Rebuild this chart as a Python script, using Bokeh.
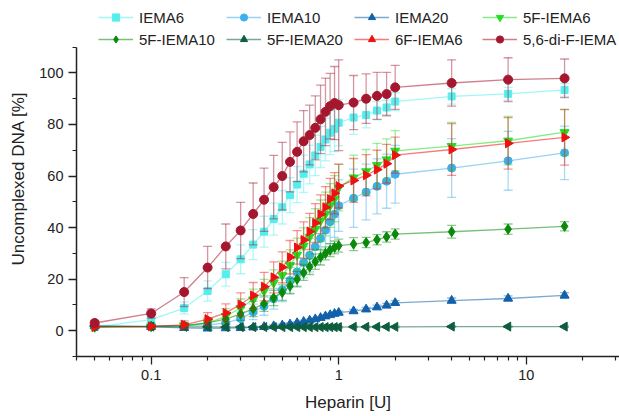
from bokeh.plotting import figure
from bokeh.models import (ColumnDataSource, FixedTicker, CustomJSTickFormatter,
                          Legend, LegendItem, Range1d)
from bokeh.embed import file_html
from bokeh.resources import INLINE

# ---------------- data ----------------
heparin = [0.05, 0.1, 0.15, 0.2, 0.25, 0.3, 0.35, 0.4, 0.45, 0.5, 0.55, 0.6, 0.65, 0.7,
           0.75, 0.8, 0.85, 0.9, 0.95, 1.0, 1.2, 1.4, 1.6, 1.8, 2, 4, 8, 16]

names = ["IEMA6", "IEMA10", "IEMA20", "5F-IEMA6",
         "5F-IEMA10", "5F-IEMA20", "6F-IEMA6", "5,6-di-F-IEMA"]

iema6 = [1.4, 4.3, 8.8, 15.4, 21.9, 27.7, 33.4, 38.4, 43.3, 47.9, 52.6, 56.7, 60.9, 64.5,
         68.0, 71.3, 74.2, 76.8, 78.3, 80.7, 82.7, 83.7, 85.4, 86.6, 88.9, 90.9, 91.9, 93.4]
iema6_err = [0.5, 1.2, 2.3, 3.9, 4.6, 5.6, 5.8, 6.0, 6.2, 6.5, 6.8, 7.0, 7.2, 7.5,
             7.8, 8.0, 8.3, 8.5, 8.8, 9.0, 6.5, 5.0, 3.6, 2.8, 3.5, 3.0, 2.5, 2.5]

iema10 = [1.8, 1.8, 2.0, 2.3, 3.0, 4.7, 7.3, 9.5, 12.4, 15.8, 19.5, 22.8, 26.5, 29.3,
          32.6, 35.8, 39.0, 42.3, 45.2, 48.5, 51.4, 53.8, 56.0, 58.0, 60.7, 63.1, 65.9, 69.0]
iema10_err = [0.5, 0.5, 0.8, 1.0, 1.5, 2.5, 3.0, 3.5, 4.0, 4.5, 5.0, 5.5, 6.0, 6.5,
              7.0, 7.5, 8.0, 8.5, 9.0, 10.0, 11.3, 10.8, 10.7, 10.5, 11.2, 11.4, 11.4, 10.4]

iema20 = [1.8, 1.5, 1.1, 0.9, 1.0, 1.1, 1.3, 1.5, 1.8, 2.1, 2.5, 3.0, 3.5, 4.0,
          4.5, 5.0, 5.6, 6.1, 6.6, 7.0, 7.6, 8.3, 9.1, 9.8, 10.8, 11.7, 12.5, 13.7]
iema20_err = [0.4, 0.4, 0.4, 0.4, 0.4, 0.4, 0.4, 0.4, 0.5, 0.5, 0.5, 0.5, 0.5, 0.5,
              0.5, 0.5, 0.6, 0.6, 0.6, 0.6, 0.7, 0.7, 0.8, 0.8, 0.9, 1.0, 1.0, 1.1]

f5_iema6 = [1.4, 1.6, 2.0, 3.0, 5.6, 8.8, 12.1, 15.4, 18.6, 21.5, 25.4, 29.4, 32.9, 36.4,
            39.4, 42.7, 45.3, 48.6, 51.2, 55.5, 59.4, 61.8, 64.2, 66.4, 69.8, 71.6, 73.7, 77.0]
f5_iema6_err = [0.5, 0.6, 1.0, 2.0, 3.0, 3.5, 4.0, 4.5, 5.0, 5.5, 6.0, 6.5, 7.0, 7.5,
                8.0, 8.0, 8.5, 8.5, 9.0, 9.0, 8.7, 8.5, 8.5, 8.0, 7.8, 9.2, 9.4, 9.0]

f5_iema10 = [1.5, 1.7, 2.0, 3.0, 4.5, 6.5, 8.5, 10.5, 12.7, 14.8, 17.3, 20.0, 22.5, 24.8,
             26.8, 28.5, 30.0, 31.3, 32.3, 33.0, 33.6, 34.2, 35.3, 36.4, 37.5, 38.4, 39.4, 40.5]
f5_iema10_err = [0.4, 0.5, 0.8, 1.5, 2.0, 2.5, 3.0, 3.0, 3.0, 3.0, 3.0, 3.0, 3.0, 3.0,
                 3.0, 3.0, 2.5, 2.5, 2.5, 2.5, 2.5, 2.0, 2.0, 2.0, 2.0, 2.5, 2.0, 1.8]

f5_iema20 = [1.8, 1.6, 1.5, 1.5, 1.4, 1.4, 1.4, 1.4, 1.4, 1.4, 1.4, 1.4, 1.4, 1.4,
             1.4, 1.4, 1.4, 1.4, 1.4, 1.4, 1.5, 1.5, 1.5, 1.5, 1.5, 1.6, 1.6, 1.6]
f5_iema20_err = [0.3] * 28

f6_iema6 = [1.4, 1.7, 2.3, 4.5, 6.9, 10.2, 13.7, 17.1, 20.7, 24.6, 28.5, 32.3, 35.2, 38.5,
            41.8, 45.2, 47.9, 51.1, 53.3, 56.1, 58.3, 60.3, 62.5, 64.8, 68.1, 70.3, 72.7, 75.0]
f6_iema6_err = [0.5, 0.8, 1.5, 2.5, 3.5, 4.5, 5.0, 5.5, 6.0, 6.0, 6.5, 6.5, 7.0, 7.0,
                7.5, 7.5, 8.0, 8.0, 8.0, 8.5, 8.5, 8.0, 7.5, 7.5, 7.0, 10.0, 10.0, 10.8]

dif_iema = [3.0, 6.7, 15.0, 24.5, 32.7, 38.9, 45.3, 50.8, 55.7, 60.0, 65.5, 69.4, 73.5, 75.9,
            78.7, 82.0, 84.9, 87.1, 88.3, 87.5, 88.5, 90.0, 91.1, 91.8, 94.4, 96.1, 97.4, 97.9]
dif_iema_err = [1.0, 1.8, 5.6, 8.2, 8.7, 10.9, 12.0, 12.3, 12.3, 13.1, 11.6, 11.6, 11.9, 11.6,
                12.4, 13.3, 13.1, 12.7, 14.2, 17.6, 10.5, 9.6, 9.1, 8.4, 8.5, 9.0, 8.5, 7.5]

values = [iema6, iema10, iema20, f5_iema6, f5_iema10, f5_iema20, f6_iema6, dif_iema]
errors = [iema6_err, iema10_err, iema20_err, f5_iema6_err, f5_iema10_err,
          f5_iema20_err, f6_iema6_err, dif_iema_err]

x_ticks = [0.1, 1, 10]
y_ticks = [0, 20, 40, 60, 80, 100]

# ---------------- styles ----------------
colors = ["#55EEEE", "#3FAEEC", "#1162AA", "#1EE01E",
          "#0A8A0A", "#0D5E3E", "#EE1111", "#A5162F"]
markers = ["square", "circle", "triangle", "inverted_triangle",
           "diamond", "triangle", "triangle", "circle"]
angles = [0, 0, 0, 0, 0, 1.5708, -1.5708, 0]
msizes = [7, 8, 9, 9, 10, 9, 9, 9]
FONT = "Liberation Sans"

# frame extends to the top of the canvas so the legend can sit above the axis end
p = figure(width=619, height=416, x_axis_type="log",
           x_range=Range1d(0.04, 31.4), y_range=Range1d(-10, 128.1),
           output_backend="svg", toolbar_location=None,
           min_border_left=76, min_border_right=0,
           min_border_top=0, min_border_bottom=60)
p.outline_line_color = None
p.grid.visible = False
p.background_fill_color = "white"

line_r, scat_r = [], []
for i in range(8):
    y = values[i]
    e = errors[i]
    src = ColumnDataSource(dict(x=heparin, y=y,
                                lo=[a - b for a, b in zip(y, e)],
                                hi=[a + b for a, b in zip(y, e)]))
    c = colors[i]
    p.segment(x0="x", y0="lo", x1="x", y1="hi", source=src,
              line_color=c, line_alpha=0.45, line_width=1.3)
    p.scatter(x="x", y="hi", source=src, marker="dash", size=9,
              line_color=c, line_alpha=0.45, line_width=1.3)
    p.scatter(x="x", y="lo", source=src, marker="dash", size=9,
              line_color=c, line_alpha=0.45, line_width=1.3)
    lr = p.line(x="x", y="y", source=src, line_color=c, line_alpha=0.55, line_width=1.3)
    sr = p.scatter(x="x", y="y", source=src, marker=markers[i], size=msizes[i],
                   angle=angles[i], fill_color=c, line_color=c, line_width=1)
    line_r.append(lr)
    scat_r.append(sr)

# axes
xa = p.xaxis[0]
xa.ticker = FixedTicker(ticks=x_ticks,
                        minor_ticks=[0.04, 0.05, 0.06, 0.07, 0.08, 0.09,
                                     0.2, 0.3, 0.4, 0.5, 0.6, 0.7, 0.8, 0.9,
                                     2, 3, 4, 5, 6, 7, 8, 9, 20, 30])
xa.formatter = CustomJSTickFormatter(code="return tick.toString();")
xa.axis_label = "Heparin [U]"
ya = p.yaxis[0]
ya.ticker = FixedTicker(ticks=y_ticks, minor_ticks=[-10, 10, 30, 50, 70, 90, 110])
ya.bounds = (-10, 110)
ya.axis_label = "Uncomplexed DNA [%]"

for ax in (xa, ya):
    ax.axis_line_color = "#222222"
    ax.axis_line_width = 1.5
    ax.major_tick_line_color = "#222222"
    ax.minor_tick_line_color = "#222222"
    ax.major_tick_line_width = 1.3
    ax.minor_tick_line_width = 1.2
    ax.major_tick_out = 8
    ax.major_tick_in = 0
    ax.minor_tick_out = 4
    ax.minor_tick_in = 0
    ax.major_label_text_font = FONT
    ax.major_label_text_font_size = "14.5px"
    ax.major_label_text_color = "#222222"
    ax.axis_label_text_font = FONT
    ax.axis_label_text_font_size = "17px"
    ax.axis_label_text_font_style = "normal"
    ax.axis_label_text_color = "#222222"
    ax.major_label_standoff = 5
xa.axis_label_standoff = 10
ya.axis_label_standoff = 8

# legend: 2 rows x 4 columns at the top
items = [LegendItem(label=names[i], renderers=[line_r[i], scat_r[i]]) for i in range(8)]
leg = Legend(items=items, location=(22, 308), orientation="horizontal", ncols=4,
             padding=0, margin=0, spacing=4, glyph_width=35, glyph_height=18,
             label_height=18, label_width=83, label_standoff=6, label_text_font=FONT,
             label_text_font_size="15px", label_text_color="#222222",
             border_line_alpha=0, background_fill_alpha=0)
p.add_layout(leg)

open("out.html", "w").write(file_html(p, INLINE))
